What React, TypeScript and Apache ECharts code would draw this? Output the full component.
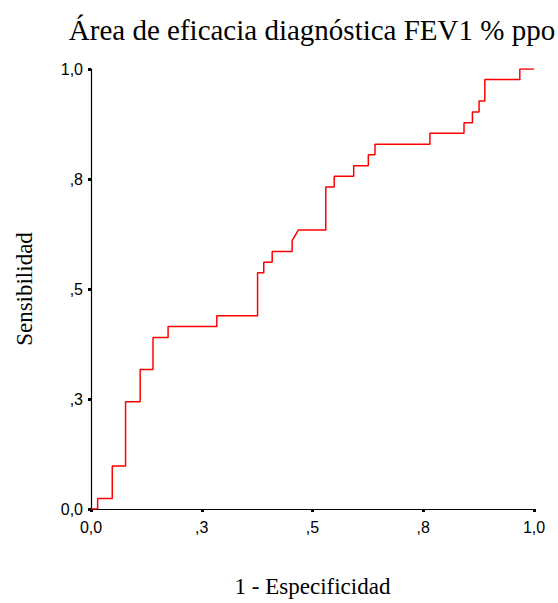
import React, { useEffect, useRef } from "react";
import * as echarts from "echarts";

// ROC curve vertices (1 - Especificidad, Sensibilidad)
const fpr = [
  0, 0.015, 0.015, 0.048, 0.048, 0.078, 0.078, 0.111, 0.111, 0.14, 0.14, 0.174, 0.174,
  0.284, 0.284, 0.376, 0.376, 0.39, 0.39, 0.409, 0.409, 0.454, 0.454, 0.468, 0.53, 0.53,
  0.549, 0.549, 0.593, 0.593, 0.626, 0.626, 0.641, 0.641, 0.765, 0.765, 0.842, 0.842,
  0.861, 0.861, 0.876, 0.876, 0.889, 0.889, 0.968, 0.968, 1.0,
];
const tpr = [
  0, 0, 0.024, 0.024, 0.098, 0.098, 0.244, 0.244, 0.317, 0.317, 0.39, 0.39, 0.415,
  0.415, 0.439, 0.439, 0.537, 0.537, 0.561, 0.561, 0.585, 0.585, 0.61, 0.634, 0.634, 0.732,
  0.732, 0.756, 0.756, 0.78, 0.78, 0.805, 0.805, 0.829, 0.829, 0.854, 0.854, 0.878,
  0.878, 0.902, 0.902, 0.927, 0.927, 0.976, 0.976, 1.0, 1.0,
];
const tickValues = [0, 0.25, 0.5, 0.75, 1];
const tickLabels = ["0,0", ",3", ",5", ",8", "1,0"];

const titleText = "Área de eficacia diagnóstica FEV1 % ppo";
const xName = "1 - Especificidad";
const yName = "Sensibilidad";

const fmt = (v: number) => {
  const i = tickValues.findIndex((t) => Math.abs(t - v) < 1e-6);
  return i >= 0 ? tickLabels[i] : "";
};

export default function App() {
  const ref = useRef<HTMLDivElement>(null);
  useEffect(() => {
    if (!ref.current) return;
    const chart = echarts.init(ref.current, null, { renderer: "svg" });
    const serif = "'Liberation Serif', 'Times New Roman', serif";
    const sans = "'Liberation Sans', Arial, sans-serif";
    const axisCommon = {
      type: "value" as const,
      min: 0,
      max: 1,
      interval: 0.25,
      nameLocation: "middle" as const,
      nameTextStyle: { fontFamily: serif, fontSize: 23, color: "#000" },
      axisLine: { show: true, onZero: false, lineStyle: { color: "#000", width: 1.2 } },
      axisTick: { show: true, length: 3, inside: false, lineStyle: { color: "#000", width: 3 } },
      axisLabel: { formatter: fmt, fontFamily: sans, fontSize: 16, color: "#000" },
      splitLine: { show: false },
    };
    chart.setOption({
      animation: false,
      backgroundColor: "#fff",
      title: {
        text: titleText,
        left: 307,
        top: 10,
        textAlign: "center",
        textStyle: { fontFamily: serif, fontSize: 29, fontWeight: "normal", color: "#000" },
      },
      grid: { left: 91, right: 24, top: 69, bottom: 92, containLabel: false },
      xAxis: {
        ...axisCommon,
        name: xName,
        nameGap: 66,
        axisLabel: { ...axisCommon.axisLabel, margin: 10 },
      },
      yAxis: {
        ...axisCommon,
        name: yName,
        nameGap: 55,
        axisLabel: { ...axisCommon.axisLabel, margin: 8 },
      },
      series: [
        {
          type: "line",
          data: fpr.map((x, i) => [x, tpr[i]]),
          showSymbol: false,
          symbol: "none",
          lineStyle: { color: "#ff0000", width: 1.5 },
          z: 1,
        },
      ],
    });
    return () => chart.dispose();
  }, []);
  return (
    <div
      ref={ref}
      style={{ position: "fixed", left: 0, top: 0, width: 558, height: 603, background: "#fff" }}
    />
  );
}
